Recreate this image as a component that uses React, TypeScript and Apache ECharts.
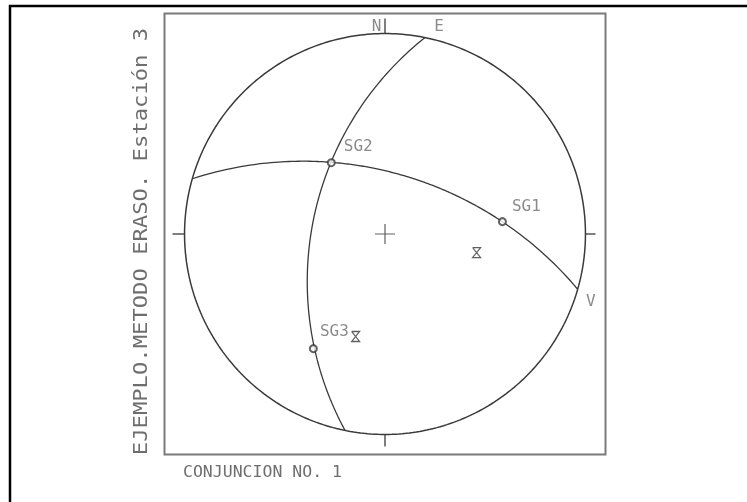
import React, { useEffect, useRef } from "react";
import * as echarts from "echarts";

// Planes (dip direction / dip, degrees) read from the stereonet
const planeNames = ["Plano 1", "Plano 2"];
const planeDipDirections = [16, 281.5];
const planeDips = [56, 50];
const planeEndLabels = ["V", "E"];

// Lines (trend / plunge, degrees)
const pointNames = ["SG1", "SG2", "SG3"];
const pointTrends = [84, 323, 212];
const pointPlunges = [29, 42, 22];

const titleText = "EJEMPLO.METODO ERASO. Estación 3";
const footerText = "CONJUNCION NO. 1";
const northLabel = "N";

const FONT = '"DejaVu Sans Mono", monospace';
const LINE = "#3a3a3a";
const TEXT = "#6e6e6e";

const toRad = (d: number) => (d * Math.PI) / 180;
const toDeg = (r: number) => (r * 180) / Math.PI;

function project(trend: number, plunge: number): [number, number] {
  const r = Math.tan(toRad((90 - plunge) / 2));
  return [r * Math.sin(toRad(trend)), r * Math.cos(toRad(trend))];
}

function greatCircle(dd: number, dip: number): [number, number][] {
  const pts: [number, number][] = [];
  for (let k = -90; k <= 90; k += 1) {
    const a = toDeg(Math.atan(Math.tan(toRad(dip)) * Math.cos(toRad(k))));
    pts.push(project(dd + k, a));
  }
  return pts;
}

export default function App() {
  const ref = useRef<HTMLDivElement>(null);
  useEffect(() => {
    document.body.style.margin = "0";
    const chart = echarts.init(ref.current!, null, { renderer: "svg" });

    const primitive: [number, number][] = [];
    for (let a = 0; a <= 360; a += 1) primitive.push(project(a, 0));

    const planeSeries = planeNames.map((n, i) => ({
      name: n,
      type: "line",
      data: greatCircle(planeDipDirections[i], planeDips[i]),
      showSymbol: false,
      symbol: "none",
      clip: false,
      lineStyle: { color: LINE, width: 1.3 },
      z: 3,
    }));

    const tickSeries = [
      [[0, 1], [0, 1.075]],
      [[0, -1], [0, -1.06]],
      [[-1, 0], [-1.06, 0]],
      [[1, 0], [1.05, 0]],
    ].map((d) => ({
      type: "line",
      data: d,
      showSymbol: false,
      symbol: "none",
      clip: false,
      lineStyle: { color: LINE, width: 1.3 },
    }));

    const endOffsets = [
      [13, 11],
      [14, -12],
    ];
    const ptOffsets = [
      [24, -16],
      [27, -17],
      [21, -18],
    ];

    const labelStyle = {
      show: true,
      position: "inside",
      fontFamily: FONT,
      fontSize: 16,
      color: TEXT,
      align: "center",
      verticalAlign: "middle",
    };

    const option: any = {
      animation: false,
      grid: {
        left: 164.5,
        top: 13.5,
        width: 441,
        height: 441,
        show: true,
        borderColor: "#7a7a7a",
        borderWidth: 2,
        backgroundColor: "transparent",
      },
      xAxis: { type: "value", min: -1.1, max: 1.1, show: false },
      yAxis: { type: "value", min: -1.1, max: 1.1, show: false },
      graphic: [
        {
          type: "rect",
          shape: { x: 10, y: 6, width: 1200, height: 1200 },
          style: { fill: "none", stroke: "#000", lineWidth: 2.5 },
        },
        {
          type: "text",
          x: 140,
          y: 241.5,
          rotation: Math.PI / 2,
          scaleX: 1.11,
          style: {
            text: titleText,
            font: `20px ${FONT}`,
            fill: TEXT,
            align: "center",
            verticalAlign: "middle",
            textAlign: "center",
            textVerticalAlign: "middle",
          },
        },
        {
          type: "text",
          x: 183,
          y: 471,
          style: {
            text: footerText,
            font: `16.5px ${FONT}`,
            fill: TEXT,
            align: "left",
            verticalAlign: "middle",
            textAlign: "left",
            textVerticalAlign: "middle",
          },
        },
      ],
      series: [
        {
          name: "primitiva",
          type: "line",
          data: primitive,
          showSymbol: false,
          symbol: "none",
          clip: false,
          lineStyle: { color: LINE, width: 1.5 },
        },
        ...planeSeries,
        ...tickSeries,
        {
          name: "centro",
          type: "scatter",
          data: [[0, 0]],
          symbol: "path://M10,0V20M0,10H20",
          symbolSize: 20,
          itemStyle: { color: "rgba(0,0,0,0)", borderColor: LINE, borderWidth: 1.2 },
          z: 4,
        },
        {
          name: "N",
          type: "scatter",
          data: [[0, 1]],
          symbolSize: 1,
          itemStyle: { color: "rgba(0,0,0,0)" },
          label: { ...labelStyle, formatter: northLabel, offset: [-8.5, -8] },
          clip: false,
        },
        {
          name: "extremos",
          type: "scatter",
          data: planeNames.map((_, i) => ({
            value: project(planeDipDirections[i] + 90, 0),
            label: { ...labelStyle, formatter: planeEndLabels[i], offset: endOffsets[i] },
          })),
          symbolSize: 1,
          itemStyle: { color: "rgba(0,0,0,0)" },
          clip: false,
        },
        {
          name: "polos",
          type: "scatter",
          data: planeNames.map((_, i) =>
            project(planeDipDirections[i] + 180, 90 - planeDips[i])
          ),
          symbol: "path://M0,0H8L0,10H8L0,0",
          symbolSize: [8, 10],
          itemStyle: { color: "rgba(0,0,0,0)", borderColor: LINE, borderWidth: 1.2 },
          z: 5,
        },
        {
          name: "SG",
          type: "scatter",
          data: pointNames.map((n, i) => ({
            value: project(pointTrends[i], pointPlunges[i]),
            label: { ...labelStyle, formatter: n, offset: ptOffsets[i] },
          })),
          symbol: "emptyCircle",
          symbolSize: 7,
          itemStyle: { color: LINE, borderColor: LINE, borderWidth: 1.4 },
          z: 5,
        },
      ],
    };
    chart.setOption(option);
    return () => chart.dispose();
  }, []);
  return (
    <div
      ref={ref}
      style={{ position: "fixed", left: 0, top: 0, width: 747, height: 502 }}
    />
  );
}
